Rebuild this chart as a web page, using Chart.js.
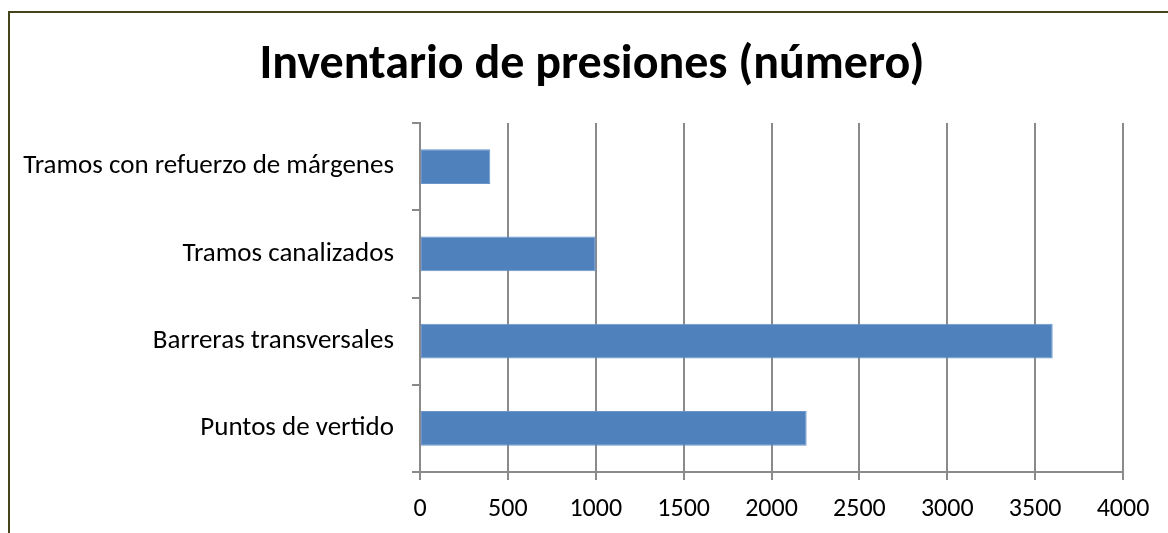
<!DOCTYPE html>
<html>
<head>
<meta charset="utf-8">
<script src="https://cdn.jsdelivr.net/npm/chart.js@4"></script>
<style>
  html, body { margin:0; padding:0; background:#fff; overflow:hidden; }
  #wrap { position:relative; width:1168px; height:533px; }
  #frame { position:absolute; left:8px; top:11px; width:1200px; height:600px; border:2px solid #45451c; box-sizing:border-box; pointer-events:none; }
  canvas { position:absolute; left:0; top:0; }
</style>
</head>
<body>
<div id="wrap">
  <canvas id="c" width="1168" height="533"></canvas>
  <div id="frame"></div>
</div>
<script>
const categories = ["Tramos con refuerzo de márgenes", "Tramos canalizados", "Barreras transversales", "Puntos de vertido"];
const values = [400, 1000, 3600, 2200];
const xTicks = [0, 500, 1000, 1500, 2000, 2500, 3000, 3500, 4000];
const titleText = "Inventario de presiones (número)";

const FONT = "Carlito, Calibri, Lato, 'Open Sans', sans-serif";
const GRID = '#8a8a8a';

new Chart(document.getElementById('c'), {
  type: 'bar',
  data: {
    labels: categories,
    datasets: [{
      data: values,
      backgroundColor: '#4f81bd',
      borderColor: '#6b96cb',
      borderWidth: 1,
      borderSkipped: false,
      barPercentage: 0.4,
      categoryPercentage: 1.0
    }]
  },
  options: {
    indexAxis: 'y',
    responsive: false,
    animation: false,
    devicePixelRatio: 1,
    layout: { padding: { left: 16, right: 0, top: 0, bottom: 0 } },
    plugins: {
      legend: { display: false },
      tooltip: { enabled: false },
      title: {
        display: true,
        text: titleText,
        color: '#000',
        font: { family: FONT, size: 48, weight: 'bold', lineHeight: 1.2 },
        padding: { top: 37, bottom: 28.4 }
      }
    },
    scales: {
      x: {
        type: 'linear',
        min: 0, max: 4000,
        afterBuildTicks: (s) => { s.ticks = xTicks.map(v => ({ value: v })); },
        afterFit: (s) => { s.height = 61; },
        grid: { color: GRID, lineWidth: 2, drawTicks: true, tickLength: 8 },
        border: { display: true, color: GRID, width: 2 },
        ticks: { color: '#000', font: { family: FONT, size: 26 }, padding: 14, maxRotation: 0,
                 callback: (v) => String(v) }
      },
      y: {
        afterFit: (s) => { s.width = 404; },
        grid: { color: GRID, lineWidth: 2, drawOnChartArea: false, drawTicks: true, tickLength: 8, offset: true },
        border: { display: true, color: GRID, width: 2 },
        ticks: { color: '#000', font: { family: FONT, size: 27 }, padding: 18 }
      },
      yRight: {
        type: 'linear',
        position: 'right',
        display: true,
        afterFit: (s) => { s.width = 45; },
        grid: { display: false, drawTicks: false },
        border: { display: false },
        ticks: { display: false }
      }
    }
  }
});
</script>
</body>
</html>
